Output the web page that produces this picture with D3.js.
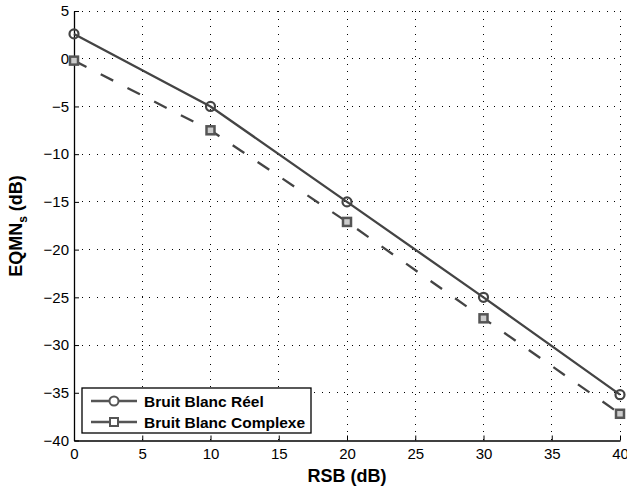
<!DOCTYPE html>
<html>
<head>
<script src="https://d3js.org/d3.v7.min.js"></script>
<style>
  body { margin: 0; background: #fff; }
  text { font-family: "Liberation Sans", Arial, sans-serif; }
</style>
</head>
<body>
<svg id="chart" width="627" height="487"></svg>
<script>
// data
var rsb = [0, 10, 20, 30, 40];
var reel = [2.6, -5.0, -15.0, -25.0, -35.2];
var complexe = [-0.2, -7.5, -17.1, -27.2, -37.2];
var xTicks = [0, 5, 10, 15, 20, 25, 30, 35, 40];
var yTicks = [5, 0, -5, -10, -15, -20, -25, -30, -35, -40];
var seriesNames = ["Bruit Blanc Réel", "Bruit Blanc Complexe"];

var svg = d3.select("#chart");
var padL = 74, padR = 620, padT = 11, padB = 440.5;

var x = d3.scaleLinear().domain([0, 40]).range([padL, padR]);
var y = d3.scaleLinear().domain([-40, 5]).range([padB, padT]);

// dotted grid
var grid = svg.append("g");
grid.selectAll("line.gx").data(xTicks.slice(1)).enter().append("line")
  .attr("x1", d => x(d)).attr("x2", d => x(d))
  .attr("y1", padT).attr("y2", padB)
  .attr("stroke", "#000").attr("stroke-width", 1)
  .attr("stroke-dasharray", "1,6.5").attr("shape-rendering", "crispEdges");
grid.selectAll("line.gy").data(yTicks.slice(0, -1)).enter().append("line")
  .attr("y1", d => y(d)).attr("y2", d => y(d))
  .attr("x1", padL).attr("x2", padR)
  .attr("stroke", "#000").attr("stroke-width", 1)
  .attr("stroke-dasharray", "1,6.5").attr("shape-rendering", "crispEdges");

// axes
var xAxis = d3.axisBottom(x).tickValues(xTicks).tickSizeInner(-5).tickSizeOuter(0).tickPadding(8);
var yAxis = d3.axisLeft(y).tickValues(yTicks).tickSizeInner(-5).tickSizeOuter(0).tickPadding(5)
  .tickFormat(d => d < 0 ? "\u2212" + Math.abs(d) : d);

var gx = svg.append("g").attr("transform", "translate(0," + padB + ")").call(xAxis);
var gy = svg.append("g").attr("transform", "translate(" + padL + ",0)").call(yAxis);
[gx, gy].forEach(function(g) {
  g.select(".domain").attr("stroke", "#000").attr("stroke-width", 1.3);
  g.selectAll(".tick line").attr("stroke", "#000");
  g.selectAll(".tick text").attr("font-size", 15).attr("fill", "#000");
});

// axis labels
svg.append("text").attr("x", 347).attr("y", 482).attr("text-anchor", "middle")
  .attr("font-size", 18).attr("font-weight", "bold").text("RSB (dB)");
var yl = svg.append("text").attr("transform", "translate(22,226) rotate(-90)")
  .attr("text-anchor", "middle").attr("font-size", 18).attr("font-weight", "bold");
yl.append("tspan").text("EQMN");
yl.append("tspan").attr("font-size", 12).attr("dy", 5).text("s");
yl.append("tspan").attr("dy", -5).text(" (dB)");

var col = "#444";
var line = d3.line().x(d => x(d[0])).y(d => y(d[1]));

var d1 = rsb.map((v, i) => [v, reel[i]]);
var d2 = rsb.map((v, i) => [v, complexe[i]]);

svg.append("path").datum(d2).attr("d", line).attr("fill", "none")
  .attr("stroke", col).attr("stroke-width", 2.3).attr("stroke-dasharray", "14,16");
svg.append("path").datum(d1).attr("d", line).attr("fill", "none")
  .attr("stroke", col).attr("stroke-width", 2.3);

svg.selectAll("circle.m").data(d1).enter().append("circle")
  .attr("cx", d => x(d[0])).attr("cy", d => y(d[1])).attr("r", 4.5)
  .attr("fill", "none").attr("stroke", col).attr("stroke-width", 2.2);
svg.selectAll("rect.m").data(d2).enter().append("rect")
  .attr("x", d => x(d[0]) - 4).attr("y", d => y(d[1]) - 4)
  .attr("width", 8).attr("height", 8)
  .attr("fill", "#ccc").attr("stroke", "#555").attr("stroke-width", 2.5);

// legend
var lg = svg.append("g");
lg.append("rect").attr("x", 82).attr("y", 388).attr("width", 229).attr("height", 45)
  .attr("fill", "#fff").attr("stroke", "#000").attr("stroke-width", 1.3);
seriesNames.forEach(function(name, i) {
  var yy = 401 + i * 21;
  lg.append("line").attr("x1", 91).attr("x2", 137).attr("y1", yy).attr("y2", yy)
    .attr("stroke", "#555").attr("stroke-width", 2.3);
  if (i === 0) {
    lg.append("circle").attr("cx", 114).attr("cy", yy).attr("r", 4.5)
      .attr("fill", "#fff").attr("stroke", "#555").attr("stroke-width", 2);
  } else {
    lg.append("rect").attr("x", 110).attr("y", yy - 4).attr("width", 8).attr("height", 8)
      .attr("fill", "#fff").attr("stroke", "#555").attr("stroke-width", 2);
  }
  lg.append("text").attr("x", 144).attr("y", yy + 5.5).attr("font-size", 15.5)
    .attr("font-weight", "bold").text(name);
});
</script>
</body>
</html>
